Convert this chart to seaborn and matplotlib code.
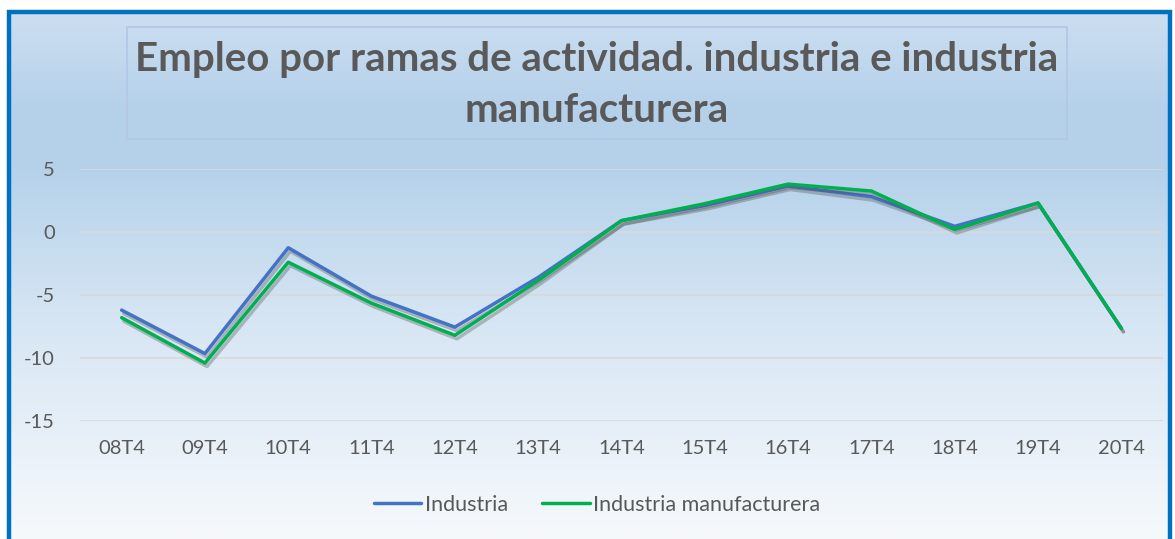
import numpy as np
import pandas as pd
import seaborn as sns
import matplotlib
matplotlib.use('Agg')
import matplotlib.pyplot as plt
import matplotlib.patheffects as pe
from matplotlib.colors import LinearSegmentedColormap
from matplotlib.patches import Rectangle

# DATA
periodos = ['08T4', '09T4', '10T4', '11T4', '12T4', '13T4', '14T4',
            '15T4', '16T4', '17T4', '18T4', '19T4', '20T4']
industria = [-6.2, -9.65, -1.25, -5.1, -7.55, -3.6, 0.9,
             2.1, 3.65, 2.8, 0.45, 2.3, -7.65]
manufacturera = [-6.8, -10.4, -2.4, -5.65, -8.2, -3.85, 0.9,
                 2.25, 3.8, 3.25, 0.2, 2.3, -7.65]
series = ['Industria', 'Industria manufacturera']
colores = ['#4472C4', '#00B050']
titulo = 'Empleo por ramas de actividad. industria e industria\nmanufacturera'

df = pd.DataFrame({
    'periodo': periodos * 2,
    'valor': industria + manufacturera,
    'serie': [series[0]] * len(periodos) + [series[1]] * len(periodos),
})

sns.set_style('white')
plt.rcParams['font.family'] = ['Lato', 'DejaVu Sans']
plt.rcParams['axes.unicode_minus'] = False
GRIS = '#595959'

fig = plt.figure(figsize=(11.75, 5.39), dpi=100)

# FONDO DEGRADADO
bg = fig.add_axes([0, 0, 1, 1], zorder=0)
grad_cmap = LinearSegmentedColormap.from_list('fondo', [
    (0.0, '#cfe0f2'), (0.2, '#b5d1ea'), (0.32, '#b6d2ea'),
    (0.6, '#d7e6f4'), (1.0, '#f6f9fc')])
bg.imshow(np.linspace(0, 1, 256).reshape(-1, 1), aspect='auto', cmap=grad_cmap,
          extent=[0, 1, 0, 1], origin='upper')
bg.set_xlim(0, 1)
bg.set_ylim(0, 1)
bg.axis('off')
# blanco fuera del marco
bg.add_patch(Rectangle((0, 1 - 10 / 539), 1, 10 / 539, color='white', zorder=2))
bg.add_patch(Rectangle((0, 0), 7 / 1175, 1, color='white', zorder=2))
bg.add_patch(Rectangle((1172 / 1175, 0), 3 / 1175, 1, color='white', zorder=2))
# marco azul
bg.add_patch(Rectangle((8.5 / 1175, -0.05), (1170 - 8.5) / 1175, 1.05 - 11.5 / 539,
                       fill=False, edgecolor='#0070C0', lw=3.2, zorder=3))
# caja del titulo
bg.add_patch(Rectangle((127 / 1175, 1 - 139 / 539), (1067 - 127) / 1175, 112 / 539,
                       fill=False, edgecolor='#b4c7e7', lw=1.3, zorder=3))
bg.text(597 / 1175, 1 - 85 / 539, titulo, ha='center', va='center',
        fontsize=29, fontweight='bold', color=GRIS, linespacing=1.45, zorder=4)

# GRAFICO
ax = fig.add_axes([80 / 1175, 1 - 421 / 539, 1083 / 1175, 252 / 539], zorder=1)
ax.patch.set_alpha(0)
sns.lineplot(data=df, x='periodo', y='valor', hue='serie', palette=colores,
             linewidth=2.5, ax=ax, sort=False, legend=False)
for ln in ax.lines:
    ln.set_path_effects([pe.SimpleLineShadow(offset=(1.5, -2.5), shadow_color='#555555', alpha=0.35),
                         pe.Normal()])

ax.set_xlim(-0.5, len(periodos) - 0.5)
ax.set_ylim(-15, 5)
ax.set_yticks([-15, -10, -5, 0, 5])
ax.grid(axis='y', color='#d9d9d9', lw=1.2)
ax.set_axisbelow(True)
ax.set_xlabel('')
ax.set_ylabel('')
for s in ax.spines.values():
    s.set_visible(False)
ax.tick_params(axis='both', length=0, labelsize=14.5, colors=GRIS)
ax.tick_params(axis='x', pad=14)
ax.tick_params(axis='y', pad=18)

# LEYENDA
handles = [plt.Line2D([], [], color=c, lw=2.5) for c in colores]
fig.legend(handles, series, loc='center', bbox_to_anchor=(597 / 1175, 1 - 505 / 539),
           ncol=2, frameon=False, fontsize=15.5, labelcolor=GRIS, handlelength=2.2,
           handletextpad=0.15, columnspacing=1.6)

fig.savefig('out.png', dpi=100)
